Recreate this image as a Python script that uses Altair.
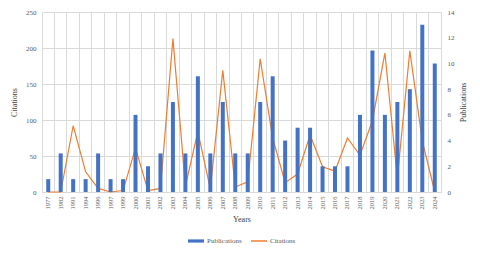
import altair as alt
import pandas as pd

years = ["1977", "1982", "1991", "1994", "1996", "1997", "1999", "2000", "2001", "2002",
         "2003", "2004", "2005", "2006", "2007", "2008", "2009", "2010", "2011", "2012",
         "2013", "2014", "2015", "2016", "2017", "2018", "2019", "2020", "2021", "2022",
         "2023", "2024"]
publications = [1, 3, 1, 1, 3, 1, 1, 6, 2, 3,
                7, 3, 9, 3, 7, 3, 3, 7, 9, 4,
                5, 5, 2, 2, 2, 6, 11, 6, 7, 8,
                13, 10]
citations = [0, 0, 92, 28, 5, 0, 2, 61, 2, 5,
             213, 8, 84, 4, 169, 7, 14, 185, 75, 13,
             25, 79, 35, 29, 75, 51, 99, 193, 20, 196,
             71, 0]

df = pd.DataFrame({"Year": years, "Publications": publications, "Citations": citations})

FONT = "Liberation Serif"
LABEL = "#595959"
TITLE = "#404040"
GRID = "#D9D9D9"
xscale = alt.Scale(domain=years, paddingInner=0, paddingOuter=0)

bars = alt.Chart(df).transform_calculate(s1="'Publications'").mark_bar(size=4).encode(
    x=alt.X("Year:N", sort=years, scale=xscale,
            axis=alt.Axis(orient="bottom", labelAngle=-90, labelFontSize=6.5, labelColor=LABEL,
                          labelPadding=4, labelAlign="right", labelBaseline="middle",
                          ticks=False, domain=True, domainColor=GRID, grid=False,
                          title="Years", titleFontSize=8, titleColor=TITLE, titleFontWeight="normal",
                          titleX=199.5, titleY=27, titleBaseline="middle")),
    y=alt.Y("Publications:Q", scale=alt.Scale(domain=[0, 14], nice=False),
            axis=alt.Axis(orient="right", values=list(range(0, 15, 2)), labelFontSize=7,
                          labelColor=LABEL, labelPadding=6, ticks=False, domain=True,
                          domainColor=GRID, grid=False, title="Publications", titleFontSize=8,
                          titleColor=TITLE, titleFontWeight="normal", titleAngle=-90,
                          titleX=22, titleY=90, titleAlign="center", titleBaseline="middle")),
    fill=alt.Fill("s1:N", scale=alt.Scale(domain=["Publications"], range=["#4472C4"]),
                  legend=alt.Legend(title=None, orient="none", legendX=145, legendY=220,
                                    symbolType="M-1,-0.2H1V0.2H-1Z", symbolSize=256,
                                    labelFontSize=7, labelColor=LABEL, labelOffset=2, padding=0)),
)

line = alt.Chart(df).transform_calculate(s2="'Citations'").mark_line(strokeWidth=1.2).encode(
    x=alt.X("Year:N", sort=years, scale=xscale,
            axis=alt.Axis(orient="top", labels=False, ticks=False, domain=False, grid=True,
                          gridColor=GRID, bandPosition=0, title=None)),
    y=alt.Y("Citations:Q", scale=alt.Scale(domain=[0, 250], nice=False),
            axis=alt.Axis(orient="left", values=[0, 50, 100, 150, 200, 250], labelFontSize=7,
                          labelColor=LABEL, labelPadding=6, ticks=False, domain=False,
                          grid=True, gridColor=GRID, title="Citations", titleFontSize=8,
                          titleColor=TITLE, titleFontWeight="normal", titleAngle=-90,
                          titleX=-27.5, titleY=90, titleAlign="center", titleBaseline="middle")),
    stroke=alt.Stroke("s2:N", scale=alt.Scale(domain=["Citations"], range=["#ED7D31"]),
                      legend=alt.Legend(title=None, orient="none", legendX=208, legendY=220,
                                        symbolType="stroke", symbolSize=256, symbolStrokeWidth=1.5,
                                        labelFontSize=7, labelColor=LABEL, labelOffset=2, padding=0)),
)

chart = alt.layer(line, bars).resolve_scale(y="independent").resolve_axis(
    x="independent", y="independent"
).properties(
    width=399, height=180,
    autosize=alt.AutoSizeParams(type="none"),
    padding={"left": 34, "top": 4, "right": 31, "bottom": 58},
).configure(font=FONT).configure_view(stroke=None)

chart.save("out.html", embed_options={"renderer": "svg", "actions": False})
